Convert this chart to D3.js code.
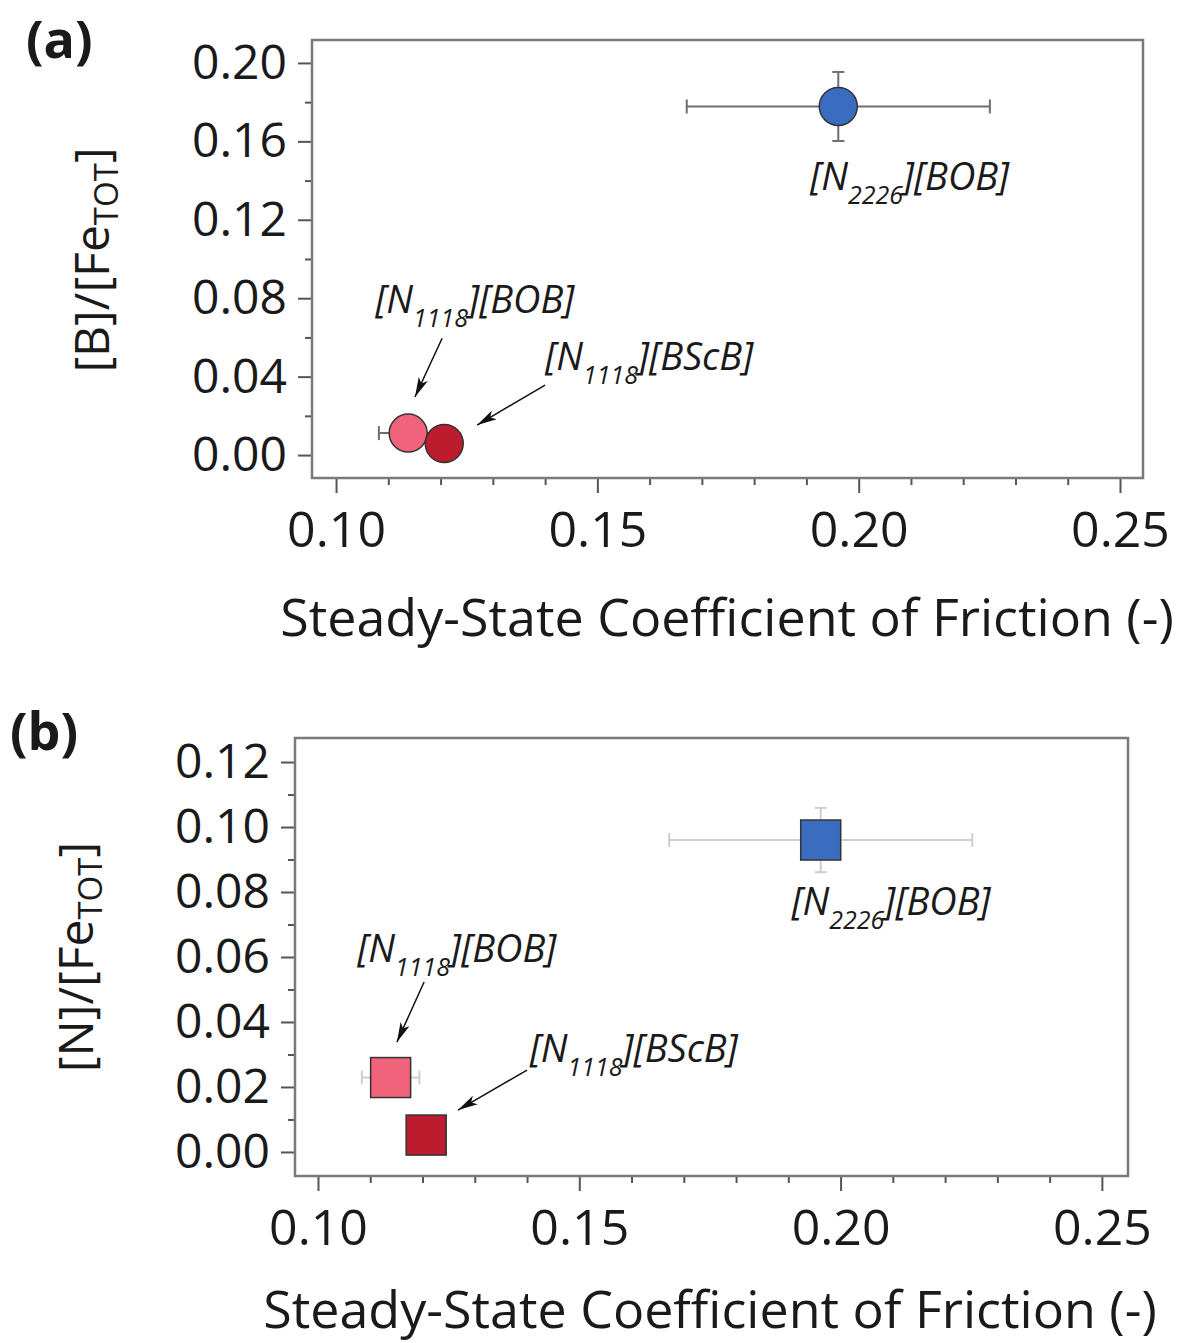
<!DOCTYPE html>
<html>
<head>
<meta charset="utf-8">
<script src="https://cdn.jsdelivr.net/npm/d3@7"></script>
<style>
  body { margin: 0; background: #fff; }
  svg text { font-family: "Open Sans", "Noto Sans", sans-serif; fill: #1a1a1a; }
  .lbl { font-style: italic; }
</style>
</head>
<body>
<svg id="fig" width="1180" height="1343"></svg>
<script>
// ---- data ----
const cations = ["2226", "1118", "1118"];
const anions = ["[BOB]", "[BOB]", "[BScB]"];
const colors = ["#3a6dc0", "#f0637a", "#bd1b2e"];

// panel (a): boron
const cofA = [0.1961, 0.1138, 0.1207];
const cofErrA = [0.029, 0.0056, 0];
const boron = [0.1778, 0.0112, 0.0059];
const boronErr = [0.0176, 0, 0];

// panel (b): nitrogen
const cofB = [0.1962, 0.1139, 0.1207];
const cofErrB = [0.029, 0.0055, 0];
const nitrogen = [0.096, 0.0229, 0.0052];
const nitrogenErr = [0.0099, 0, 0];

const xTicks = [0.10, 0.15, 0.20, 0.25];
const yTicksA = [0.00, 0.04, 0.08, 0.12, 0.16, 0.20];
const yTicksB = [0.00, 0.02, 0.04, 0.06, 0.08, 0.10, 0.12];

// label anchors (data units): [x, y] of text start, arrow from/to
const labelPosA = [[0.1907, 0.1350], [0.1075, 0.0724], [0.1400, 0.0433]];
const arrowsA = [null, [0.1203, 0.0596, 0.1151, 0.0296], [0.1400, 0.0357, 0.1270, 0.0153]];
const labelPosB = [[0.1906, 0.0729], [0.1075, 0.0585], [0.1405, 0.0277]];
const arrowsB = [null, [0.1203, 0.0523, 0.1151, 0.0338], [0.1400, 0.0252, 0.1268, 0.0129]];

const svg = d3.select("#fig");
svg.append("defs").append("marker")
    .attr("id", "arrow").attr("viewBox", "0 0 20 10")
    .attr("refX", 20).attr("refY", 5)
    .attr("markerWidth", 20).attr("markerHeight", 10)
    .attr("markerUnits", "userSpaceOnUse").attr("orient", "auto")
  .append("path").attr("d", "M0,0 L20,5 L0,10 L5,5 Z").attr("fill", "#111");

function drawPanel(p) {
    let g = svg.append("g");
    let x = d3.scaleLinear().domain(p.xDomain).range([p.left, p.right]);
    let y = d3.scaleLinear().domain(p.yDomain).range([p.bottom, p.top]);

    // minor ticks
    let xMinor = d3.range(10, 26).map(d => d / 100).filter(d => !xTicks.some(t => Math.abs(t - d) < 1e-9));
    g.append("g").attr("transform", "translate(0," + p.bottom + ")")
        .call(d3.axisBottom(x).tickValues(xMinor).tickSize(7).tickFormat(""))
        .call(a => a.select(".domain").remove());
    let yMinor = d3.range(0, p.yTicks.length * 2 - 1).map(i => p.yTicks[0] + i * p.yStep / 2)
        .filter((d, i) => i % 2 == 1);
    g.append("g").attr("transform", "translate(" + p.left + ",0)")
        .call(d3.axisLeft(y).tickValues(yMinor).tickSize(7).tickFormat(""))
        .call(a => a.select(".domain").remove());

    // major ticks
    let xa = g.append("g").attr("transform", "translate(0," + p.bottom + ")")
        .call(d3.axisBottom(x).tickValues(xTicks).tickSize(15).tickPadding(18).tickFormat(d3.format(".2f")));
    xa.select(".domain").remove();
    xa.selectAll("text").attr("font-size", 50);
    let ya = g.append("g").attr("transform", "translate(" + p.left + ",0)")
        .call(d3.axisLeft(y).tickValues(p.yTicks).tickSize(14).tickPadding(11).tickFormat(d3.format(".2f")));
    ya.select(".domain").remove();
    ya.selectAll("text").attr("font-size", 48);
    g.selectAll(".tick line").attr("stroke", "#555").attr("stroke-width", 2);
    g.selectAll(".tick text").attr("font-family", null).attr("fill", "#1a1a1a");

    // frame
    g.append("rect").attr("x", p.left).attr("y", p.top)
        .attr("width", p.right - p.left).attr("height", p.bottom - p.top)
        .attr("fill", "none").attr("stroke", "#7a7a7a").attr("stroke-width", 2.5);

    // error bars
    let eb = g.append("g").attr("stroke", p.errColor).attr("stroke-width", 2).attr("fill", "none");
    p.xs.forEach((xv, i) => {
        if (p.xErr[i] > 0) {
            let x0 = x(xv - p.xErr[i]), x1 = x(xv + p.xErr[i]), yy = y(p.ys[i]);
            eb.append("line").attr("x1", x0).attr("x2", x1).attr("y1", yy).attr("y2", yy);
            eb.append("line").attr("x1", x0).attr("x2", x0).attr("y1", yy - 7).attr("y2", yy + 7);
            eb.append("line").attr("x1", x1).attr("x2", x1).attr("y1", yy - 7).attr("y2", yy + 7);
        }
        if (p.yErr[i] > 0) {
            let y0 = y(p.ys[i] - p.yErr[i]), y1 = y(p.ys[i] + p.yErr[i]), xx = x(xv);
            eb.append("line").attr("x1", xx).attr("x2", xx).attr("y1", y0).attr("y2", y1);
            eb.append("line").attr("x1", xx - 6).attr("x2", xx + 6).attr("y1", y0).attr("y2", y0);
            eb.append("line").attr("x1", xx - 6).attr("x2", xx + 6).attr("y1", y1).attr("y2", y1);
        }
    });

    // markers
    let data = p.xs.map((xv, i) => ({x: xv, y: p.ys[i], c: colors[i]}));
    if (p.shape == "circle") {
        g.selectAll("circle.pt").data(data).enter().append("circle").attr("class", "pt")
            .attr("cx", d => x(d.x)).attr("cy", d => y(d.y)).attr("r", 19)
            .attr("fill", d => d.c).attr("stroke", "#333").attr("stroke-width", 1.5);
    } else {
        g.selectAll("rect.pt").data(data).enter().append("rect").attr("class", "pt")
            .attr("x", d => x(d.x) - 20).attr("y", d => y(d.y) - 20).attr("width", 40).attr("height", 40)
            .attr("fill", d => d.c).attr("stroke", "#333").attr("stroke-width", 1.5);
    }

    // labels
    p.labels.forEach((lp, i) => {
        let t = g.append("text").attr("class", "lbl").attr("x", x(lp[0])).attr("y", y(lp[1]))
            .attr("font-size", 38);
        t.append("tspan").text("[N");
        t.append("tspan").text(cations[i]).attr("font-size", 25).attr("dy", 14);
        t.append("tspan").text("]" + anions[i]).attr("dy", -14);
        let a = p.arrows[i];
        if (a) {
            g.append("line").attr("x1", x(a[0])).attr("y1", y(a[1])).attr("x2", x(a[2])).attr("y2", y(a[3]))
                .attr("stroke", "#111").attr("stroke-width", 1.5).attr("marker-end", "url(#arrow)");
        }
    });

    // axis titles
    g.append("text").attr("x", p.xTitlePos[0]).attr("y", p.xTitlePos[1])
        .attr("text-anchor", "middle").attr("font-size", 52)
        .text("Steady-State Coefficient of Friction (-)");
    let yt = g.append("text").attr("transform", "translate(" + p.yTitlePos[0] + "," + p.yTitlePos[1] + ") rotate(-90)")
        .attr("text-anchor", "middle").attr("font-size", 48);
    yt.append("tspan").text(p.yName + "/[Fe");
    yt.append("tspan").text("TOT").attr("font-size", 33).attr("dy", 9);
    yt.append("tspan").text("]").attr("dy", -9);

    g.append("text").attr("x", p.tagPos[0]).attr("y", p.tagPos[1])
        .attr("font-size", 52).attr("font-weight", "bold").text(p.tag);
}

drawPanel({
    tag: "(a)", tagPos: [26, 58],
    left: 312, right: 1143, top: 40, bottom: 478,
    xDomain: [0.0954, 0.2544], yDomain: [-0.0117, 0.2117],
    yTicks: yTicksA, yStep: 0.04,
    xs: cofA, xErr: cofErrA, ys: boron, yErr: boronErr,
    errColor: "#6e6e6e", shape: "circle",
    labels: labelPosA, arrows: arrowsA,
    xTitlePos: [727, 636], yTitlePos: [109, 260], yName: "[B]"
});

drawPanel({
    tag: "(b)", tagPos: [10, 750],
    left: 295, right: 1128, top: 738, bottom: 1176,
    xDomain: [0.0956, 0.2550], yDomain: [-0.0074, 0.1274],
    yTicks: yTicksB, yStep: 0.02,
    xs: cofB, xErr: cofErrB, ys: nitrogen, yErr: nitrogenErr,
    errColor: "#cfcfcf", shape: "square",
    labels: labelPosB, arrows: arrowsB,
    xTitlePos: [710, 1328], yTitlePos: [93, 957], yName: "[N]"
});
</script>
</body>
</html>
